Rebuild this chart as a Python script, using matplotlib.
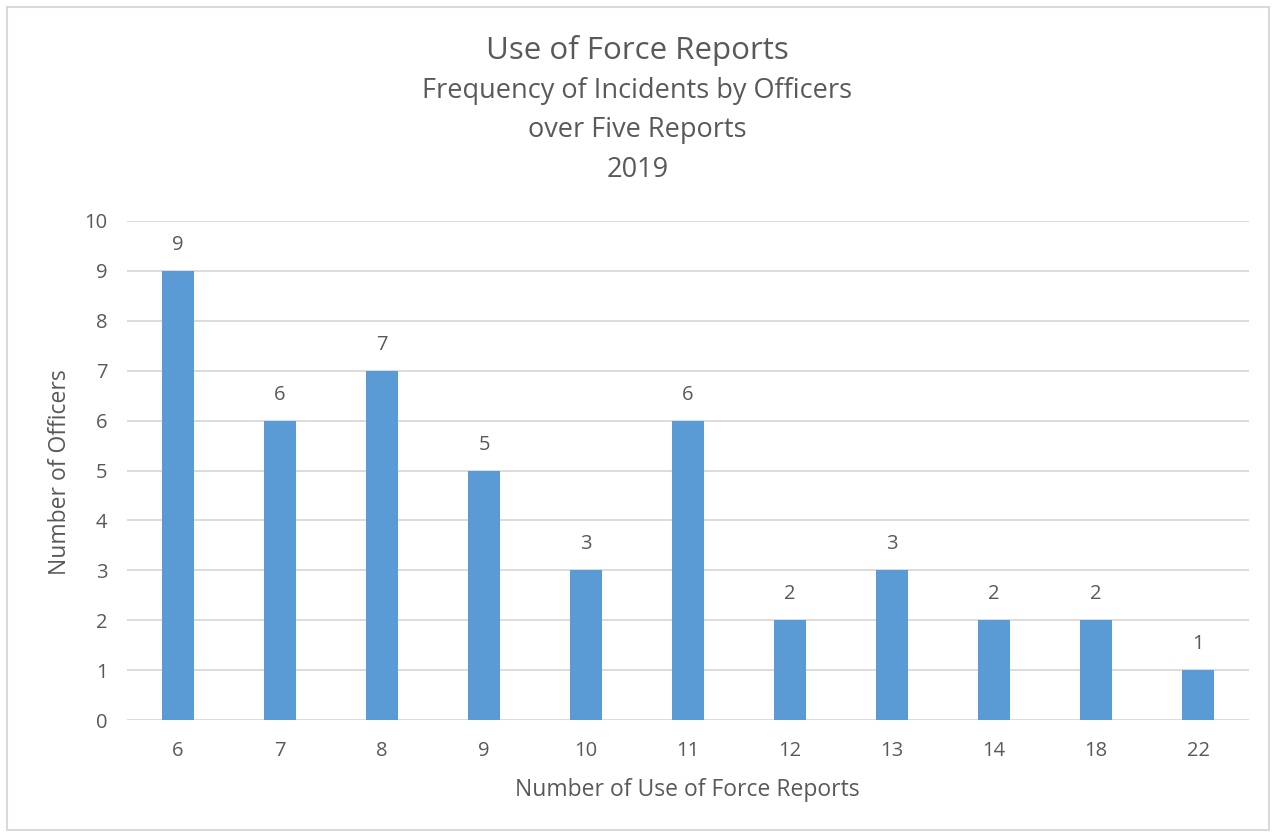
import matplotlib
matplotlib.use('Agg')
import matplotlib.pyplot as plt
from matplotlib.patches import Rectangle

# 数据
report_counts = ['6', '7', '8', '9', '10', '11', '12', '13', '14', '18', '22']
officers = [9, 6, 7, 5, 3, 6, 2, 3, 2, 2, 1]

plt.rcParams['font.family'] = ['Open Sans', 'DejaVu Sans']
text_color = '#595959'

fig = plt.figure(figsize=(12.75, 8.35), dpi=100)
ax = fig.add_axes([127 / 1275, 1 - 720 / 835, (1249 - 127) / 1275, (720 - 221) / 835])

x = range(len(report_counts))
bars = ax.bar(x, officers, width=0.31, color='#5B9BD5', zorder=3)
for b, v in zip(bars, officers):
    ax.text(b.get_x() + b.get_width() / 2, v + 0.52, str(v), ha='center', va='center',
            fontsize=14.5, color=text_color)

ax.set_xlim(-0.5, len(report_counts) - 0.5)
ax.set_ylim(0, 10)
ax.set_yticks(range(0, 11))
ax.set_xticks(list(x))
ax.set_xticklabels(report_counts)
ax.tick_params(axis='both', length=0, labelsize=14.5, labelcolor=text_color)
ax.tick_params(axis='x', pad=15)
ax.tick_params(axis='y', pad=14)
ax.grid(axis='y', color='#d9d9d9', linewidth=1.3, zorder=0)
for s in ax.spines.values():
    s.set_visible(False)

fig.text(0.5, 1 - 50 / 835, 'Use of Force Reports', ha='center', va='center', fontsize=22.5, color=text_color)
fig.text(0.5, 1 - 91 / 835, 'Frequency of Incidents by Officers', ha='center', va='center', fontsize=19.5, color=text_color)
fig.text(0.5, 1 - 130 / 835, 'over Five Reports', ha='center', va='center', fontsize=19.5, color=text_color)
fig.text(0.5, 1 - 170 / 835, '2019', ha='center', va='center', fontsize=19.5, color=text_color)
fig.text(687 / 1275, 1 - 790 / 835, 'Number of Use of Force Reports', ha='center', va='center', fontsize=16.5, color=text_color)
fig.text(60 / 1275, 1 - 472 / 835, 'Number of Officers', ha='center', va='center', rotation=90, fontsize=16.5, color=text_color)

fig.patches.append(Rectangle((7 / 1275, 5 / 835), 1262 / 1275, 823 / 835, transform=fig.transFigure,
                             fill=False, edgecolor='#d9d9d9', linewidth=1.5))

fig.savefig('out.png', dpi=100)
